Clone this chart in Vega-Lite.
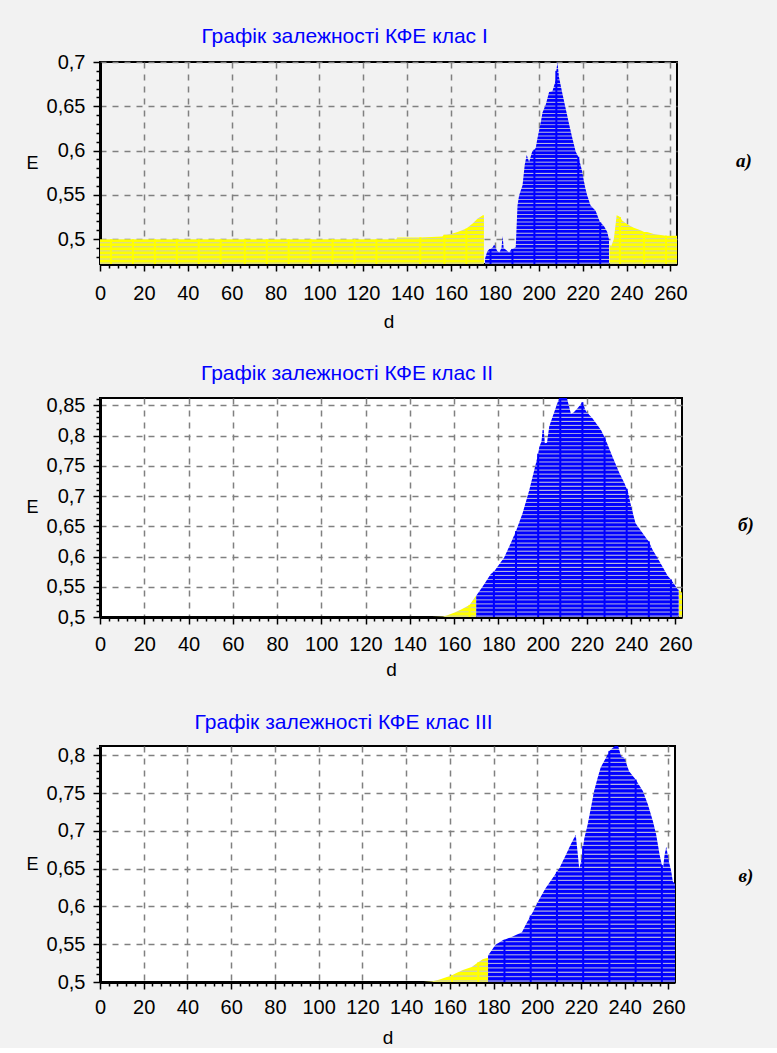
{
"$schema": "https://vega.github.io/schema/vega-lite/v6.json",
"background": "#f2f2f2",
"padding": {"left": 25, "top": 1, "right": 0, "bottom": 0},
"spacing": 6,
"config": {
  "view": {"stroke": "#000", "strokeWidth": 2},
  "font": "Liberation Sans",
  "axis": {"domainColor": "#000", "domainWidth": 3, "tickColor": "#000", "tickWidth": 1.5, "labelFont": "Liberation Sans", "labelFontSize": 20, "labelColor": "#000", "titleFont": "Liberation Sans", "titleFontSize": 19, "titleFontWeight": "normal", "titleColor": "#000", "gridColor": "#808080", "gridDash": [6, 6], "gridWidth": 1.5, "labelOverlap": false, "labelFlush": false, "labelBound": false}
},
"datasets": {
"p1": [
{"d":0,"E":0.5,"s":"y1"},{"d":5,"E":0.5,"s":"y1"},{"d":15,"E":0.5,"s":"y1"},{"d":25,"E":0.5,"s":"y1"},{"d":35,"E":0.5,"s":"y1"},{"d":45,"E":0.5,"s":"y1"},{"d":55,"E":0.5,"s":"y1"},{"d":66,"E":0.5,"s":"y1"},{"d":76,"E":0.5,"s":"y1"},{"d":86,"E":0.5,"s":"y1"},{"d":96,"E":0.5,"s":"y1"},{"d":106,"E":0.5,"s":"y1"},{"d":116,"E":0.5,"s":"y1"},{"d":126,"E":0.5,"s":"y1"},{"d":135,"E":0.5,"s":"y1"},{"d":135.5,"E":0.502,"s":"y1"},{"d":146,"E":0.502,"s":"y1"},{"d":156,"E":0.503,"s":"y1"},{"d":157,"E":0.505,"s":"y1"},{"d":160,"E":0.506,"s":"y1"},{"d":163,"E":0.508,"s":"y1"},{"d":167,"E":0.512,"s":"y1"},{"d":170,"E":0.518,"s":"y1"},{"d":172,"E":0.523,"s":"y1"},{"d":174.5,"E":0.527,"s":"y1"},{"d":175,"E":0.527,"s":"y1"},
{"d":175.5,"E":0.478,"s":"b"},{"d":176.5,"E":0.486,"s":"b"},{"d":177.5,"E":0.489,"s":"b"},{"d":178,"E":0.489,"s":"b"},{"d":179,"E":0.491,"s":"b"},{"d":179.7,"E":0.494,"s":"b"},{"d":181,"E":0.487,"s":"b"},{"d":182,"E":0.485,"s":"b"},{"d":183,"E":0.49,"s":"b"},{"d":183.5,"E":0.504,"s":"b"},{"d":184,"E":0.49,"s":"b"},{"d":185,"E":0.488,"s":"b"},{"d":186.5,"E":0.485,"s":"b"},{"d":187.6,"E":0.489,"s":"b"},{"d":188,"E":0.489,"s":"b"},{"d":189.5,"E":0.491,"s":"b"},{"d":190.3,"E":0.538,"s":"b"},{"d":191,"E":0.549,"s":"b"},{"d":192.6,"E":0.561,"s":"b"},{"d":193.6,"E":0.584,"s":"b"},{"d":194.5,"E":0.595,"s":"b"},{"d":195.6,"E":0.587,"s":"b"},{"d":197,"E":0.599,"s":"b"},{"d":198,"E":0.601,"s":"b"},{"d":198.6,"E":0.603,"s":"b"},{"d":199.4,"E":0.614,"s":"b"},{"d":201,"E":0.633,"s":"b"},{"d":201.7,"E":0.643,"s":"b"},{"d":203.2,"E":0.652,"s":"b"},{"d":204.7,"E":0.666,"s":"b"},{"d":206.2,"E":0.667,"s":"b"},{"d":207.7,"E":0.679,"s":"b"},{"d":208,"E":0.69,"s":"b"},{"d":208.5,"E":0.7,"s":"b"},{"d":209.2,"E":0.683,"s":"b"},{"d":210.8,"E":0.664,"s":"b"},{"d":212.3,"E":0.647,"s":"b"},{"d":213.8,"E":0.63,"s":"b"},{"d":215.3,"E":0.614,"s":"b"},{"d":216.8,"E":0.599,"s":"b"},{"d":218,"E":0.593,"s":"b"},{"d":218.3,"E":0.591,"s":"b"},{"d":219.8,"E":0.576,"s":"b"},{"d":220.9,"E":0.561,"s":"b"},{"d":222,"E":0.55,"s":"b"},{"d":223.6,"E":0.538,"s":"b"},{"d":225.9,"E":0.532,"s":"b"},{"d":227.9,"E":0.519,"s":"b"},{"d":228,"E":0.519,"s":"b"},{"d":229.7,"E":0.515,"s":"b"},{"d":231.2,"E":0.508,"s":"b"},{"d":232,"E":0.5,"s":"b"},
{"d":232.2,"E":0.494,"s":"y2"},{"d":233,"E":0.492,"s":"y2"},{"d":234.2,"E":0.5,"s":"y2"},{"d":235.5,"E":0.527,"s":"y2"},{"d":236.5,"E":0.526,"s":"y2"},{"d":237,"E":0.525,"s":"y2"},{"d":238,"E":0.521,"s":"y2"},{"d":240.3,"E":0.517,"s":"y2"},{"d":243.3,"E":0.513,"s":"y2"},{"d":246.4,"E":0.51,"s":"y2"},{"d":248,"E":0.508,"s":"y2"},{"d":249.4,"E":0.508,"s":"y2"},{"d":252.4,"E":0.506,"s":"y2"},{"d":258,"E":0.504,"s":"y2"},{"d":263,"E":0.504,"s":"y2"}
],
"p2": [
{"d":150,"E":0.5,"s":"y1"},{"d":155,"E":0.501,"s":"y1"},{"d":157,"E":0.503,"s":"y1"},{"d":160,"E":0.507,"s":"y1"},{"d":163,"E":0.512,"s":"y1"},{"d":167,"E":0.52,"s":"y1"},{"d":169.5,"E":0.533,"s":"y1"},{"d":170,"E":0.535,"s":"y1"},
{"d":170,"E":0.535,"s":"b"},{"d":173,"E":0.551,"s":"b"},{"d":176.6,"E":0.571,"s":"b"},{"d":178,"E":0.575,"s":"b"},{"d":181,"E":0.59,"s":"b"},{"d":182.6,"E":0.598,"s":"b"},{"d":185.6,"E":0.622,"s":"b"},{"d":188,"E":0.642,"s":"b"},{"d":191,"E":0.672,"s":"b"},{"d":194,"E":0.71,"s":"b"},{"d":197,"E":0.754,"s":"b"},{"d":198,"E":0.77,"s":"b"},{"d":198.5,"E":0.781,"s":"b"},{"d":199.5,"E":0.79,"s":"b"},{"d":200,"E":0.809,"s":"b"},{"d":200.5,"E":0.81,"s":"b"},{"d":201,"E":0.787,"s":"b"},{"d":202,"E":0.788,"s":"b"},{"d":203,"E":0.815,"s":"b"},{"d":205,"E":0.836,"s":"b"},{"d":207.5,"E":0.862,"s":"b"},{"d":208,"E":0.862,"s":"b"},{"d":211,"E":0.862,"s":"b"},{"d":212.8,"E":0.836,"s":"b"},{"d":214,"E":0.838,"s":"b"},{"d":215.8,"E":0.845,"s":"b"},{"d":218,"E":0.855,"s":"b"},{"d":219.6,"E":0.84,"s":"b"},{"d":222.6,"E":0.828,"s":"b"},{"d":226.4,"E":0.809,"s":"b"},{"d":228,"E":0.797,"s":"b"},{"d":228.6,"E":0.792,"s":"b"},{"d":231.6,"E":0.765,"s":"b"},{"d":234.7,"E":0.738,"s":"b"},{"d":237,"E":0.721,"s":"b"},{"d":238,"E":0.712,"s":"b"},{"d":238.4,"E":0.71,"s":"b"},{"d":240,"E":0.683,"s":"b"},{"d":242,"E":0.655,"s":"b"},{"d":246.7,"E":0.631,"s":"b"},{"d":248,"E":0.625,"s":"b"},{"d":249.7,"E":0.611,"s":"b"},{"d":252.8,"E":0.592,"s":"b"},{"d":256.5,"E":0.568,"s":"b"},{"d":258,"E":0.562,"s":"b"},{"d":259.5,"E":0.554,"s":"b"},{"d":261,"E":0.546,"s":"b"},{"d":261.5,"E":0.545,"s":"b"},
{"d":261.6,"E":0.545,"s":"y2"},{"d":263,"E":0.54,"s":"y2"}
],
"p3": [
{"d":148,"E":0.5,"s":"y1"},{"d":152,"E":0.501,"s":"y1"},{"d":155,"E":0.503,"s":"y1"},{"d":158,"E":0.506,"s":"y1"},{"d":161,"E":0.509,"s":"y1"},{"d":163,"E":0.512,"s":"y1"},{"d":166,"E":0.516,"s":"y1"},{"d":170,"E":0.52,"s":"y1"},{"d":173,"E":0.526,"s":"y1"},{"d":175,"E":0.53,"s":"y1"},{"d":177.5,"E":0.532,"s":"y1"},
{"d":177.5,"E":0.535,"s":"b"},{"d":180.8,"E":0.549,"s":"b"},{"d":184,"E":0.555,"s":"b"},{"d":185,"E":0.556,"s":"b"},{"d":188.5,"E":0.56,"s":"b"},{"d":193,"E":0.566,"s":"b"},{"d":194.6,"E":0.575,"s":"b"},{"d":197,"E":0.588,"s":"b"},{"d":197.7,"E":0.591,"s":"b"},{"d":200.8,"E":0.609,"s":"b"},{"d":203.8,"E":0.624,"s":"b"},{"d":206.9,"E":0.637,"s":"b"},{"d":209,"E":0.646,"s":"b"},{"d":210,"E":0.65,"s":"b"},{"d":213,"E":0.668,"s":"b"},{"d":215.3,"E":0.682,"s":"b"},{"d":217.6,"E":0.695,"s":"b"},{"d":218.5,"E":0.67,"s":"b"},{"d":219.2,"E":0.65,"s":"b"},{"d":220.4,"E":0.664,"s":"b"},{"d":221,"E":0.68,"s":"b"},{"d":221.5,"E":0.69,"s":"b"},{"d":223,"E":0.708,"s":"b"},{"d":224.5,"E":0.73,"s":"b"},{"d":226,"E":0.753,"s":"b"},{"d":227.6,"E":0.77,"s":"b"},{"d":229,"E":0.784,"s":"b"},{"d":231.4,"E":0.797,"s":"b"},{"d":233,"E":0.806,"s":"b"},{"d":233.7,"E":0.808,"s":"b"},{"d":235.5,"E":0.8125,"s":"b"},{"d":237,"E":0.8125,"s":"b"},{"d":238.3,"E":0.799,"s":"b"},{"d":239.8,"E":0.797,"s":"b"},{"d":242,"E":0.779,"s":"b"},{"d":245,"E":0.768,"s":"b"},{"d":248.3,"E":0.753,"s":"b"},{"d":250.6,"E":0.735,"s":"b"},{"d":252.9,"E":0.713,"s":"b"},{"d":254.4,"E":0.695,"s":"b"},{"d":256,"E":0.668,"s":"b"},{"d":257,"E":0.655,"s":"b"},{"d":257.5,"E":0.65,"s":"b"},{"d":258.2,"E":0.668,"s":"b"},{"d":259,"E":0.679,"s":"b"},{"d":260.2,"E":0.66,"s":"b"},{"d":261.3,"E":0.646,"s":"b"},{"d":262,"E":0.633,"s":"b"},{"d":263,"E":0.63,"s":"b"}
]
},
"vconcat": [
{"spacing": 16, "hconcat": [
 {"width": 577, "height": 202,
  "title": {"text": ["", "Графік залежності КФЕ клас I"], "color": "#0000ff", "fontSize": 21, "font": "Liberation Sans", "fontWeight": "normal", "anchor": "middle", "frame": "bounds", "lineHeight": 24, "offset": 5, "dx": -12},
  "view": {"fill": "#f2f2f2"},
  "data": {"name": "p1"},
  "encoding": {
   "x": {"field": "d", "type": "quantitative", "scale": {"domain": [0, 263], "nice": false, "zero": false},
     "axis": {"values": [0,4,8,12,16,20,24,28,32,36,40,44,48,52,56,60,64,68,72,76,80,84,88,92,96,100,104,108,112,116,120,124,128,132,136,140,144,148,152,156,160,164,168,172,176,180,184,188,192,196,200,204,208,212,216,220,224,228,232,236,240,244,248,252,256,260], "labelExpr": "datum.value % 20 == 0 ? datum.label : ''", "tickSize": {"condition": {"test": "datum.value % 20 == 0", "value": 7}, "value": 4}, "gridOpacity": {"condition": {"test": "datum.value % 20 == 0", "value": 1}, "value": 0}, "grid": true, "title": "d", "labelPadding": 12, "titlePadding": 9}},
   "y": {"field": "E", "type": "quantitative", "scale": {"domain": [0.472, 0.7], "nice": false, "zero": false},
     "axis": {"values": [0.48,0.49,0.5,0.51,0.52,0.53,0.54,0.55,0.56,0.57,0.58,0.59,0.6,0.61,0.62,0.63,0.64,0.65,0.66,0.67,0.68,0.69,0.7], "labelExpr": "round(datum.value*100) % 5 == 0 ? replace(format(datum.value, '.2~f'), '.', ',') : ''", "tickSize": {"condition": {"test": "round(datum.value*100) % 5 == 0", "value": 7}, "value": 4}, "gridOpacity": {"condition": {"test": "round(datum.value*100) % 5 == 0", "value": 1}, "value": 0}, "grid": true, "title": "E", "titleFontSize": 18, "titleAngle": 0, "titleAlign": "right", "titleBaseline": "middle", "titlePadding": 8, "labelPadding": 8}}
  },
  "layer": [
   {"transform": [{"filter": "datum.s != 'b'"}], "mark": {"type": "area", "clip": true, "fill": {"gradient": "linear", "x1": 0, "y1": 0, "x2": 0, "y2": 1, "stops": [
{"offset":0,"color":"#ff0"},{"offset":0.0417,"color":"#ff0"},{"offset":0.0667,"color":"#ccb"},
{"offset":0.0833,"color":"#ff0"},{"offset":0.125,"color":"#ff0"},{"offset":0.15,"color":"#ccb"},
{"offset":0.1667,"color":"#ff0"},{"offset":0.2083,"color":"#ff0"},{"offset":0.2333,"color":"#ccb"},
{"offset":0.25,"color":"#ff0"},{"offset":0.2917,"color":"#ff0"},{"offset":0.3167,"color":"#ccb"},
{"offset":0.3333,"color":"#ff0"},{"offset":0.375,"color":"#ff0"},{"offset":0.4,"color":"#ccb"},
{"offset":0.4167,"color":"#ff0"},{"offset":0.4583,"color":"#ff0"},{"offset":0.4833,"color":"#ccb"},
{"offset":0.5,"color":"#ff0"},{"offset":0.5417,"color":"#ff0"},{"offset":0.5667,"color":"#ccb"},
{"offset":0.5833,"color":"#ff0"},{"offset":0.625,"color":"#ff0"},{"offset":0.65,"color":"#ccb"},
{"offset":0.6667,"color":"#ff0"},{"offset":0.7083,"color":"#ff0"},{"offset":0.7333,"color":"#ccb"},
{"offset":0.75,"color":"#ff0"},{"offset":0.7917,"color":"#ff0"},{"offset":0.8167,"color":"#ccb"},
{"offset":0.8333,"color":"#ff0"},{"offset":0.875,"color":"#ff0"},{"offset":0.9,"color":"#ccb"},
{"offset":0.9167,"color":"#ff0"},{"offset":0.9583,"color":"#ff0"},{"offset":0.9833,"color":"#ccb"},
{"offset":1,"color":"#ff0"}]}}, "encoding": {"detail": {"field": "s"}, "y2": {"datum": 0.472}}},
   {"transform": [{"filter": "datum.s == 'b'"}], "mark": {"type": "area", "clip": true, "fill": {"gradient": "linear", "x1": 0, "y1": 0, "x2": 0, "y2": 1, "stops": [
{"offset":0,"color":"#00f"},{"offset":0.0093,"color":"#00f"},{"offset":0.0148,"color":"#bbd"},
{"offset":0.0185,"color":"#00f"},{"offset":0.0278,"color":"#00f"},{"offset":0.0333,"color":"#bbd"},
{"offset":0.037,"color":"#00f"},{"offset":0.0463,"color":"#00f"},{"offset":0.0519,"color":"#bbd"},
{"offset":0.0556,"color":"#00f"},{"offset":0.0648,"color":"#00f"},{"offset":0.0704,"color":"#bbd"},
{"offset":0.0741,"color":"#00f"},{"offset":0.0833,"color":"#00f"},{"offset":0.0889,"color":"#bbd"},
{"offset":0.0926,"color":"#00f"},{"offset":0.1019,"color":"#00f"},{"offset":0.1074,"color":"#bbd"},
{"offset":0.1111,"color":"#00f"},{"offset":0.1204,"color":"#00f"},{"offset":0.1259,"color":"#bbd"},
{"offset":0.1296,"color":"#00f"},{"offset":0.1389,"color":"#00f"},{"offset":0.1444,"color":"#bbd"},
{"offset":0.1481,"color":"#00f"},{"offset":0.1574,"color":"#00f"},{"offset":0.163,"color":"#bbd"},
{"offset":0.1667,"color":"#00f"},{"offset":0.1759,"color":"#00f"},{"offset":0.1815,"color":"#bbd"},
{"offset":0.1852,"color":"#00f"},{"offset":0.1944,"color":"#00f"},{"offset":0.2,"color":"#bbd"},
{"offset":0.2037,"color":"#00f"},{"offset":0.213,"color":"#00f"},{"offset":0.2185,"color":"#bbd"},
{"offset":0.2222,"color":"#00f"},{"offset":0.2315,"color":"#00f"},{"offset":0.237,"color":"#bbd"},
{"offset":0.2407,"color":"#00f"},{"offset":0.25,"color":"#00f"},{"offset":0.2556,"color":"#bbd"},
{"offset":0.2593,"color":"#00f"},{"offset":0.2685,"color":"#00f"},{"offset":0.2741,"color":"#bbd"},
{"offset":0.2778,"color":"#00f"},{"offset":0.287,"color":"#00f"},{"offset":0.2926,"color":"#bbd"},
{"offset":0.2963,"color":"#00f"},{"offset":0.3056,"color":"#00f"},{"offset":0.3111,"color":"#bbd"},
{"offset":0.3148,"color":"#00f"},{"offset":0.3241,"color":"#00f"},{"offset":0.3296,"color":"#bbd"},
{"offset":0.3333,"color":"#00f"},{"offset":0.3426,"color":"#00f"},{"offset":0.3481,"color":"#bbd"},
{"offset":0.3519,"color":"#00f"},{"offset":0.3611,"color":"#00f"},{"offset":0.3667,"color":"#bbd"},
{"offset":0.3704,"color":"#00f"},{"offset":0.3796,"color":"#00f"},{"offset":0.3852,"color":"#bbd"},
{"offset":0.3889,"color":"#00f"},{"offset":0.3981,"color":"#00f"},{"offset":0.4037,"color":"#bbd"},
{"offset":0.4074,"color":"#00f"},{"offset":0.4167,"color":"#00f"},{"offset":0.4222,"color":"#bbd"},
{"offset":0.4259,"color":"#00f"},{"offset":0.4352,"color":"#00f"},{"offset":0.4407,"color":"#bbd"},
{"offset":0.4444,"color":"#00f"},{"offset":0.4537,"color":"#00f"},{"offset":0.4593,"color":"#bbd"},
{"offset":0.463,"color":"#00f"},{"offset":0.4722,"color":"#00f"},{"offset":0.4778,"color":"#bbd"},
{"offset":0.4815,"color":"#00f"},{"offset":0.4907,"color":"#00f"},{"offset":0.4963,"color":"#bbd"},
{"offset":0.5,"color":"#00f"},{"offset":0.5093,"color":"#00f"},{"offset":0.5148,"color":"#bbd"},
{"offset":0.5185,"color":"#00f"},{"offset":0.5278,"color":"#00f"},{"offset":0.5333,"color":"#bbd"},
{"offset":0.537,"color":"#00f"},{"offset":0.5463,"color":"#00f"},{"offset":0.5519,"color":"#bbd"},
{"offset":0.5556,"color":"#00f"},{"offset":0.5648,"color":"#00f"},{"offset":0.5704,"color":"#bbd"},
{"offset":0.5741,"color":"#00f"},{"offset":0.5833,"color":"#00f"},{"offset":0.5889,"color":"#bbd"},
{"offset":0.5926,"color":"#00f"},{"offset":0.6019,"color":"#00f"},{"offset":0.6074,"color":"#bbd"},
{"offset":0.6111,"color":"#00f"},{"offset":0.6204,"color":"#00f"},{"offset":0.6259,"color":"#bbd"},
{"offset":0.6296,"color":"#00f"},{"offset":0.6389,"color":"#00f"},{"offset":0.6444,"color":"#bbd"},
{"offset":0.6481,"color":"#00f"},{"offset":0.6574,"color":"#00f"},{"offset":0.663,"color":"#bbd"},
{"offset":0.6667,"color":"#00f"},{"offset":0.6759,"color":"#00f"},{"offset":0.6815,"color":"#bbd"},
{"offset":0.6852,"color":"#00f"},{"offset":0.6944,"color":"#00f"},{"offset":0.7,"color":"#bbd"},
{"offset":0.7037,"color":"#00f"},{"offset":0.713,"color":"#00f"},{"offset":0.7185,"color":"#bbd"},
{"offset":0.7222,"color":"#00f"},{"offset":0.7315,"color":"#00f"},{"offset":0.737,"color":"#bbd"},
{"offset":0.7407,"color":"#00f"},{"offset":0.75,"color":"#00f"},{"offset":0.7556,"color":"#bbd"},
{"offset":0.7593,"color":"#00f"},{"offset":0.7685,"color":"#00f"},{"offset":0.7741,"color":"#bbd"},
{"offset":0.7778,"color":"#00f"},{"offset":0.787,"color":"#00f"},{"offset":0.7926,"color":"#bbd"},
{"offset":0.7963,"color":"#00f"},{"offset":0.8056,"color":"#00f"},{"offset":0.8111,"color":"#bbd"},
{"offset":0.8148,"color":"#00f"},{"offset":0.8241,"color":"#00f"},{"offset":0.8296,"color":"#bbd"},
{"offset":0.8333,"color":"#00f"},{"offset":0.8426,"color":"#00f"},{"offset":0.8481,"color":"#bbd"},
{"offset":0.8519,"color":"#00f"},{"offset":0.8611,"color":"#00f"},{"offset":0.8667,"color":"#bbd"},
{"offset":0.8704,"color":"#00f"},{"offset":0.8796,"color":"#00f"},{"offset":0.8852,"color":"#bbd"},
{"offset":0.8889,"color":"#00f"},{"offset":0.8981,"color":"#00f"},{"offset":0.9037,"color":"#bbd"},
{"offset":0.9074,"color":"#00f"},{"offset":0.9167,"color":"#00f"},{"offset":0.9222,"color":"#bbd"},
{"offset":0.9259,"color":"#00f"},{"offset":0.9352,"color":"#00f"},{"offset":0.9407,"color":"#bbd"},
{"offset":0.9444,"color":"#00f"},{"offset":0.9537,"color":"#00f"},{"offset":0.9593,"color":"#bbd"},
{"offset":0.963,"color":"#00f"},{"offset":0.9722,"color":"#00f"},{"offset":0.9778,"color":"#bbd"},
{"offset":0.9815,"color":"#00f"},{"offset":0.9907,"color":"#00f"},{"offset":0.9963,"color":"#bbd"},
{"offset":1,"color":"#00f"}]}}, "encoding": {"y2": {"datum": 0.472}}},
   {"transform": [{"filter": "datum.s != 'b' && indexof([5,15,25,35,45,55,66,76,86,96,106,116,126,146,157,167,237,248,258], datum.d) >= 0"}], "mark": {"type": "rule", "color": "#ffff00", "strokeWidth": 2, "clip": true}, "encoding": {"y2": {"datum": 0.472}}},
   {"transform": [{"filter": "datum.s == 'b' && indexof([178,188,198,208,218,228], datum.d) >= 0"}], "mark": {"type": "rule", "color": "#0000ff", "strokeWidth": 2, "clip": true}, "encoding": {"y2": {"datum": 0.472}}}
  ]
 },
 {"width": 84, "height": 202, "view": {"stroke": null}, "data": {"values": [{"t": "а)"}]},
  "mark": {"type": "text", "font": "Liberation Serif", "fontStyle": "italic", "fontWeight": "bold", "fontSize": 19, "dx": -3, "dy": -2},
  "encoding": {"text": {"field": "t"}}}
]},
{"spacing": 11, "hconcat": [
 {"width": 582, "height": 219,
  "title": {"text": ["", "Графік залежності КФЕ клас II"], "color": "#0000ff", "fontSize": 21, "font": "Liberation Sans", "fontWeight": "normal", "anchor": "middle", "frame": "bounds", "lineHeight": 24, "offset": 5, "dx": -12},
  "view": {"fill": "#ffffff"},
  "data": {"name": "p2"},
  "encoding": {
   "x": {"field": "d", "type": "quantitative", "scale": {"domain": [0, 263], "nice": false, "zero": false},
     "axis": {"values": [0,4,8,12,16,20,24,28,32,36,40,44,48,52,56,60,64,68,72,76,80,84,88,92,96,100,104,108,112,116,120,124,128,132,136,140,144,148,152,156,160,164,168,172,176,180,184,188,192,196,200,204,208,212,216,220,224,228,232,236,240,244,248,252,256,260], "labelExpr": "datum.value % 20 == 0 ? datum.label : ''", "tickSize": {"condition": {"test": "datum.value % 20 == 0", "value": 7}, "value": 4}, "gridOpacity": {"condition": {"test": "datum.value % 20 == 0", "value": 1}, "value": 0}, "grid": true, "title": "d", "labelPadding": 10, "titlePadding": 6}},
   "y": {"field": "E", "type": "quantitative", "scale": {"domain": [0.5, 0.862], "nice": false, "zero": false},
     "axis": {"values": [0.5,0.51,0.52,0.53,0.54,0.55,0.56,0.57,0.58,0.59,0.6,0.61,0.62,0.63,0.64,0.65,0.66,0.67,0.68,0.69,0.7,0.71,0.72,0.73,0.74,0.75,0.76,0.77,0.78,0.79,0.8,0.81,0.82,0.83,0.84,0.85,0.86], "labelExpr": "round(datum.value*100) % 5 == 0 ? replace(format(datum.value, '.2~f'), '.', ',') : ''", "tickSize": {"condition": {"test": "round(datum.value*100) % 5 == 0", "value": 7}, "value": 4}, "gridOpacity": {"condition": {"test": "round(datum.value*100) % 5 == 0", "value": 1}, "value": 0}, "grid": true, "title": "E", "titleFontSize": 18, "titleAngle": 0, "titleAlign": "right", "titleBaseline": "middle", "titlePadding": 8, "labelPadding": 8}}
  },
  "layer": [
   {"transform": [{"filter": "datum.s != 'b'"}], "mark": {"type": "area", "clip": true, "fill": {"gradient": "linear", "x1": 0, "y1": 0, "x2": 0, "y2": 1, "stops": [
{"offset":0,"color":"#ff0"},{"offset":0.1,"color":"#ff0"},{"offset":0.16,"color":"#ccb"},
{"offset":0.2,"color":"#ff0"},{"offset":0.3,"color":"#ff0"},{"offset":0.36,"color":"#ccb"},
{"offset":0.4,"color":"#ff0"},{"offset":0.5,"color":"#ff0"},{"offset":0.56,"color":"#ccb"},
{"offset":0.6,"color":"#ff0"},{"offset":0.7,"color":"#ff0"},{"offset":0.76,"color":"#ccb"},
{"offset":0.8,"color":"#ff0"},{"offset":0.9,"color":"#ff0"},{"offset":0.96,"color":"#ccb"},
{"offset":1,"color":"#ff0"}]}}, "encoding": {"detail": {"field": "s"}, "y2": {"datum": 0.5}}},
   {"transform": [{"filter": "datum.s == 'b'"}], "mark": {"type": "area", "clip": true, "fill": {"gradient": "linear", "x1": 0, "y1": 0, "x2": 0, "y2": 1, "stops": [
{"offset":0,"color":"#00f"},{"offset":0.0093,"color":"#00f"},{"offset":0.0148,"color":"#bbd"},
{"offset":0.0185,"color":"#00f"},{"offset":0.0278,"color":"#00f"},{"offset":0.0333,"color":"#bbd"},
{"offset":0.037,"color":"#00f"},{"offset":0.0463,"color":"#00f"},{"offset":0.0519,"color":"#bbd"},
{"offset":0.0556,"color":"#00f"},{"offset":0.0648,"color":"#00f"},{"offset":0.0704,"color":"#bbd"},
{"offset":0.0741,"color":"#00f"},{"offset":0.0833,"color":"#00f"},{"offset":0.0889,"color":"#bbd"},
{"offset":0.0926,"color":"#00f"},{"offset":0.1019,"color":"#00f"},{"offset":0.1074,"color":"#bbd"},
{"offset":0.1111,"color":"#00f"},{"offset":0.1204,"color":"#00f"},{"offset":0.1259,"color":"#bbd"},
{"offset":0.1296,"color":"#00f"},{"offset":0.1389,"color":"#00f"},{"offset":0.1444,"color":"#bbd"},
{"offset":0.1481,"color":"#00f"},{"offset":0.1574,"color":"#00f"},{"offset":0.163,"color":"#bbd"},
{"offset":0.1667,"color":"#00f"},{"offset":0.1759,"color":"#00f"},{"offset":0.1815,"color":"#bbd"},
{"offset":0.1852,"color":"#00f"},{"offset":0.1944,"color":"#00f"},{"offset":0.2,"color":"#bbd"},
{"offset":0.2037,"color":"#00f"},{"offset":0.213,"color":"#00f"},{"offset":0.2185,"color":"#bbd"},
{"offset":0.2222,"color":"#00f"},{"offset":0.2315,"color":"#00f"},{"offset":0.237,"color":"#bbd"},
{"offset":0.2407,"color":"#00f"},{"offset":0.25,"color":"#00f"},{"offset":0.2556,"color":"#bbd"},
{"offset":0.2593,"color":"#00f"},{"offset":0.2685,"color":"#00f"},{"offset":0.2741,"color":"#bbd"},
{"offset":0.2778,"color":"#00f"},{"offset":0.287,"color":"#00f"},{"offset":0.2926,"color":"#bbd"},
{"offset":0.2963,"color":"#00f"},{"offset":0.3056,"color":"#00f"},{"offset":0.3111,"color":"#bbd"},
{"offset":0.3148,"color":"#00f"},{"offset":0.3241,"color":"#00f"},{"offset":0.3296,"color":"#bbd"},
{"offset":0.3333,"color":"#00f"},{"offset":0.3426,"color":"#00f"},{"offset":0.3481,"color":"#bbd"},
{"offset":0.3519,"color":"#00f"},{"offset":0.3611,"color":"#00f"},{"offset":0.3667,"color":"#bbd"},
{"offset":0.3704,"color":"#00f"},{"offset":0.3796,"color":"#00f"},{"offset":0.3852,"color":"#bbd"},
{"offset":0.3889,"color":"#00f"},{"offset":0.3981,"color":"#00f"},{"offset":0.4037,"color":"#bbd"},
{"offset":0.4074,"color":"#00f"},{"offset":0.4167,"color":"#00f"},{"offset":0.4222,"color":"#bbd"},
{"offset":0.4259,"color":"#00f"},{"offset":0.4352,"color":"#00f"},{"offset":0.4407,"color":"#bbd"},
{"offset":0.4444,"color":"#00f"},{"offset":0.4537,"color":"#00f"},{"offset":0.4593,"color":"#bbd"},
{"offset":0.463,"color":"#00f"},{"offset":0.4722,"color":"#00f"},{"offset":0.4778,"color":"#bbd"},
{"offset":0.4815,"color":"#00f"},{"offset":0.4907,"color":"#00f"},{"offset":0.4963,"color":"#bbd"},
{"offset":0.5,"color":"#00f"},{"offset":0.5093,"color":"#00f"},{"offset":0.5148,"color":"#bbd"},
{"offset":0.5185,"color":"#00f"},{"offset":0.5278,"color":"#00f"},{"offset":0.5333,"color":"#bbd"},
{"offset":0.537,"color":"#00f"},{"offset":0.5463,"color":"#00f"},{"offset":0.5519,"color":"#bbd"},
{"offset":0.5556,"color":"#00f"},{"offset":0.5648,"color":"#00f"},{"offset":0.5704,"color":"#bbd"},
{"offset":0.5741,"color":"#00f"},{"offset":0.5833,"color":"#00f"},{"offset":0.5889,"color":"#bbd"},
{"offset":0.5926,"color":"#00f"},{"offset":0.6019,"color":"#00f"},{"offset":0.6074,"color":"#bbd"},
{"offset":0.6111,"color":"#00f"},{"offset":0.6204,"color":"#00f"},{"offset":0.6259,"color":"#bbd"},
{"offset":0.6296,"color":"#00f"},{"offset":0.6389,"color":"#00f"},{"offset":0.6444,"color":"#bbd"},
{"offset":0.6481,"color":"#00f"},{"offset":0.6574,"color":"#00f"},{"offset":0.663,"color":"#bbd"},
{"offset":0.6667,"color":"#00f"},{"offset":0.6759,"color":"#00f"},{"offset":0.6815,"color":"#bbd"},
{"offset":0.6852,"color":"#00f"},{"offset":0.6944,"color":"#00f"},{"offset":0.7,"color":"#bbd"},
{"offset":0.7037,"color":"#00f"},{"offset":0.713,"color":"#00f"},{"offset":0.7185,"color":"#bbd"},
{"offset":0.7222,"color":"#00f"},{"offset":0.7315,"color":"#00f"},{"offset":0.737,"color":"#bbd"},
{"offset":0.7407,"color":"#00f"},{"offset":0.75,"color":"#00f"},{"offset":0.7556,"color":"#bbd"},
{"offset":0.7593,"color":"#00f"},{"offset":0.7685,"color":"#00f"},{"offset":0.7741,"color":"#bbd"},
{"offset":0.7778,"color":"#00f"},{"offset":0.787,"color":"#00f"},{"offset":0.7926,"color":"#bbd"},
{"offset":0.7963,"color":"#00f"},{"offset":0.8056,"color":"#00f"},{"offset":0.8111,"color":"#bbd"},
{"offset":0.8148,"color":"#00f"},{"offset":0.8241,"color":"#00f"},{"offset":0.8296,"color":"#bbd"},
{"offset":0.8333,"color":"#00f"},{"offset":0.8426,"color":"#00f"},{"offset":0.8481,"color":"#bbd"},
{"offset":0.8519,"color":"#00f"},{"offset":0.8611,"color":"#00f"},{"offset":0.8667,"color":"#bbd"},
{"offset":0.8704,"color":"#00f"},{"offset":0.8796,"color":"#00f"},{"offset":0.8852,"color":"#bbd"},
{"offset":0.8889,"color":"#00f"},{"offset":0.8981,"color":"#00f"},{"offset":0.9037,"color":"#bbd"},
{"offset":0.9074,"color":"#00f"},{"offset":0.9167,"color":"#00f"},{"offset":0.9222,"color":"#bbd"},
{"offset":0.9259,"color":"#00f"},{"offset":0.9352,"color":"#00f"},{"offset":0.9407,"color":"#bbd"},
{"offset":0.9444,"color":"#00f"},{"offset":0.9537,"color":"#00f"},{"offset":0.9593,"color":"#bbd"},
{"offset":0.963,"color":"#00f"},{"offset":0.9722,"color":"#00f"},{"offset":0.9778,"color":"#bbd"},
{"offset":0.9815,"color":"#00f"},{"offset":0.9907,"color":"#00f"},{"offset":0.9963,"color":"#bbd"},
{"offset":1,"color":"#00f"}]}}, "encoding": {"y2": {"datum": 0.5}}},
   {"transform": [{"filter": "datum.s != 'b' && indexof([167], datum.d) >= 0"}], "mark": {"type": "rule", "color": "#ffff00", "strokeWidth": 2, "clip": true}, "encoding": {"y2": {"datum": 0.5}}},
   {"transform": [{"filter": "datum.s == 'b' && indexof([178,188,198,208,218,228,238,248,258], datum.d) >= 0"}], "mark": {"type": "rule", "color": "#0000ff", "strokeWidth": 2, "clip": true}, "encoding": {"y2": {"datum": 0.5}}}
  ]
 },
 {"width": 84, "height": 219, "view": {"stroke": null}, "data": {"values": [{"t": "б)"}]},
  "mark": {"type": "text", "font": "Liberation Serif", "fontStyle": "italic", "fontWeight": "bold", "fontSize": 19, "dx": -1, "dy": 17},
  "encoding": {"text": {"field": "t"}}}
]},
{"spacing": 18, "hconcat": [
 {"width": 575, "height": 236,
  "title": {"text": ["", "Графік залежності КФЕ клас III"], "color": "#0000ff", "fontSize": 21, "font": "Liberation Sans", "fontWeight": "normal", "anchor": "middle", "frame": "bounds", "lineHeight": 24, "offset": 5, "dx": -12},
  "view": {"fill": "#ffffff"},
  "data": {"name": "p3"},
  "encoding": {
   "x": {"field": "d", "type": "quantitative", "scale": {"domain": [0, 263], "nice": false, "zero": false},
     "axis": {"values": [0,4,8,12,16,20,24,28,32,36,40,44,48,52,56,60,64,68,72,76,80,84,88,92,96,100,104,108,112,116,120,124,128,132,136,140,144,148,152,156,160,164,168,172,176,180,184,188,192,196,200,204,208,212,216,220,224,228,232,236,240,244,248,252,256,260], "labelExpr": "datum.value % 20 == 0 ? datum.label : ''", "tickSize": {"condition": {"test": "datum.value % 20 == 0", "value": 7}, "value": 4}, "gridOpacity": {"condition": {"test": "datum.value % 20 == 0", "value": 1}, "value": 0}, "grid": true, "title": "d", "labelPadding": 8, "titlePadding": 11}},
   "y": {"field": "E", "type": "quantitative", "scale": {"domain": [0.5, 0.8125], "nice": false, "zero": false},
     "axis": {"values": [0.5,0.51,0.52,0.53,0.54,0.55,0.56,0.57,0.58,0.59,0.6,0.61,0.62,0.63,0.64,0.65,0.66,0.67,0.68,0.69,0.7,0.71,0.72,0.73,0.74,0.75,0.76,0.77,0.78,0.79,0.8,0.81], "labelExpr": "round(datum.value*100) % 5 == 0 ? replace(format(datum.value, '.2~f'), '.', ',') : ''", "tickSize": {"condition": {"test": "round(datum.value*100) % 5 == 0", "value": 7}, "value": 4}, "gridOpacity": {"condition": {"test": "round(datum.value*100) % 5 == 0", "value": 1}, "value": 0}, "grid": true, "title": "E", "titleFontSize": 18, "titleAngle": 0, "titleAlign": "right", "titleBaseline": "middle", "titlePadding": 8, "labelPadding": 8}}
  },
  "layer": [
   {"transform": [{"filter": "datum.s != 'b'"}], "mark": {"type": "area", "clip": true, "fill": {"gradient": "linear", "x1": 0, "y1": 0, "x2": 0, "y2": 1, "stops": [
{"offset":0,"color":"#ff0"},{"offset":0.1,"color":"#ff0"},{"offset":0.16,"color":"#ccb"},
{"offset":0.2,"color":"#ff0"},{"offset":0.3,"color":"#ff0"},{"offset":0.36,"color":"#ccb"},
{"offset":0.4,"color":"#ff0"},{"offset":0.5,"color":"#ff0"},{"offset":0.56,"color":"#ccb"},
{"offset":0.6,"color":"#ff0"},{"offset":0.7,"color":"#ff0"},{"offset":0.76,"color":"#ccb"},
{"offset":0.8,"color":"#ff0"},{"offset":0.9,"color":"#ff0"},{"offset":0.96,"color":"#ccb"},
{"offset":1,"color":"#ff0"}]}}, "encoding": {"detail": {"field": "s"}, "y2": {"datum": 0.5}}},
   {"transform": [{"filter": "datum.s == 'b'"}], "mark": {"type": "area", "clip": true, "fill": {"gradient": "linear", "x1": 0, "y1": 0, "x2": 0, "y2": 1, "stops": [
{"offset":0,"color":"#00f"},{"offset":0.0093,"color":"#00f"},{"offset":0.0148,"color":"#bbd"},
{"offset":0.0185,"color":"#00f"},{"offset":0.0278,"color":"#00f"},{"offset":0.0333,"color":"#bbd"},
{"offset":0.037,"color":"#00f"},{"offset":0.0463,"color":"#00f"},{"offset":0.0519,"color":"#bbd"},
{"offset":0.0556,"color":"#00f"},{"offset":0.0648,"color":"#00f"},{"offset":0.0704,"color":"#bbd"},
{"offset":0.0741,"color":"#00f"},{"offset":0.0833,"color":"#00f"},{"offset":0.0889,"color":"#bbd"},
{"offset":0.0926,"color":"#00f"},{"offset":0.1019,"color":"#00f"},{"offset":0.1074,"color":"#bbd"},
{"offset":0.1111,"color":"#00f"},{"offset":0.1204,"color":"#00f"},{"offset":0.1259,"color":"#bbd"},
{"offset":0.1296,"color":"#00f"},{"offset":0.1389,"color":"#00f"},{"offset":0.1444,"color":"#bbd"},
{"offset":0.1481,"color":"#00f"},{"offset":0.1574,"color":"#00f"},{"offset":0.163,"color":"#bbd"},
{"offset":0.1667,"color":"#00f"},{"offset":0.1759,"color":"#00f"},{"offset":0.1815,"color":"#bbd"},
{"offset":0.1852,"color":"#00f"},{"offset":0.1944,"color":"#00f"},{"offset":0.2,"color":"#bbd"},
{"offset":0.2037,"color":"#00f"},{"offset":0.213,"color":"#00f"},{"offset":0.2185,"color":"#bbd"},
{"offset":0.2222,"color":"#00f"},{"offset":0.2315,"color":"#00f"},{"offset":0.237,"color":"#bbd"},
{"offset":0.2407,"color":"#00f"},{"offset":0.25,"color":"#00f"},{"offset":0.2556,"color":"#bbd"},
{"offset":0.2593,"color":"#00f"},{"offset":0.2685,"color":"#00f"},{"offset":0.2741,"color":"#bbd"},
{"offset":0.2778,"color":"#00f"},{"offset":0.287,"color":"#00f"},{"offset":0.2926,"color":"#bbd"},
{"offset":0.2963,"color":"#00f"},{"offset":0.3056,"color":"#00f"},{"offset":0.3111,"color":"#bbd"},
{"offset":0.3148,"color":"#00f"},{"offset":0.3241,"color":"#00f"},{"offset":0.3296,"color":"#bbd"},
{"offset":0.3333,"color":"#00f"},{"offset":0.3426,"color":"#00f"},{"offset":0.3481,"color":"#bbd"},
{"offset":0.3519,"color":"#00f"},{"offset":0.3611,"color":"#00f"},{"offset":0.3667,"color":"#bbd"},
{"offset":0.3704,"color":"#00f"},{"offset":0.3796,"color":"#00f"},{"offset":0.3852,"color":"#bbd"},
{"offset":0.3889,"color":"#00f"},{"offset":0.3981,"color":"#00f"},{"offset":0.4037,"color":"#bbd"},
{"offset":0.4074,"color":"#00f"},{"offset":0.4167,"color":"#00f"},{"offset":0.4222,"color":"#bbd"},
{"offset":0.4259,"color":"#00f"},{"offset":0.4352,"color":"#00f"},{"offset":0.4407,"color":"#bbd"},
{"offset":0.4444,"color":"#00f"},{"offset":0.4537,"color":"#00f"},{"offset":0.4593,"color":"#bbd"},
{"offset":0.463,"color":"#00f"},{"offset":0.4722,"color":"#00f"},{"offset":0.4778,"color":"#bbd"},
{"offset":0.4815,"color":"#00f"},{"offset":0.4907,"color":"#00f"},{"offset":0.4963,"color":"#bbd"},
{"offset":0.5,"color":"#00f"},{"offset":0.5093,"color":"#00f"},{"offset":0.5148,"color":"#bbd"},
{"offset":0.5185,"color":"#00f"},{"offset":0.5278,"color":"#00f"},{"offset":0.5333,"color":"#bbd"},
{"offset":0.537,"color":"#00f"},{"offset":0.5463,"color":"#00f"},{"offset":0.5519,"color":"#bbd"},
{"offset":0.5556,"color":"#00f"},{"offset":0.5648,"color":"#00f"},{"offset":0.5704,"color":"#bbd"},
{"offset":0.5741,"color":"#00f"},{"offset":0.5833,"color":"#00f"},{"offset":0.5889,"color":"#bbd"},
{"offset":0.5926,"color":"#00f"},{"offset":0.6019,"color":"#00f"},{"offset":0.6074,"color":"#bbd"},
{"offset":0.6111,"color":"#00f"},{"offset":0.6204,"color":"#00f"},{"offset":0.6259,"color":"#bbd"},
{"offset":0.6296,"color":"#00f"},{"offset":0.6389,"color":"#00f"},{"offset":0.6444,"color":"#bbd"},
{"offset":0.6481,"color":"#00f"},{"offset":0.6574,"color":"#00f"},{"offset":0.663,"color":"#bbd"},
{"offset":0.6667,"color":"#00f"},{"offset":0.6759,"color":"#00f"},{"offset":0.6815,"color":"#bbd"},
{"offset":0.6852,"color":"#00f"},{"offset":0.6944,"color":"#00f"},{"offset":0.7,"color":"#bbd"},
{"offset":0.7037,"color":"#00f"},{"offset":0.713,"color":"#00f"},{"offset":0.7185,"color":"#bbd"},
{"offset":0.7222,"color":"#00f"},{"offset":0.7315,"color":"#00f"},{"offset":0.737,"color":"#bbd"},
{"offset":0.7407,"color":"#00f"},{"offset":0.75,"color":"#00f"},{"offset":0.7556,"color":"#bbd"},
{"offset":0.7593,"color":"#00f"},{"offset":0.7685,"color":"#00f"},{"offset":0.7741,"color":"#bbd"},
{"offset":0.7778,"color":"#00f"},{"offset":0.787,"color":"#00f"},{"offset":0.7926,"color":"#bbd"},
{"offset":0.7963,"color":"#00f"},{"offset":0.8056,"color":"#00f"},{"offset":0.8111,"color":"#bbd"},
{"offset":0.8148,"color":"#00f"},{"offset":0.8241,"color":"#00f"},{"offset":0.8296,"color":"#bbd"},
{"offset":0.8333,"color":"#00f"},{"offset":0.8426,"color":"#00f"},{"offset":0.8481,"color":"#bbd"},
{"offset":0.8519,"color":"#00f"},{"offset":0.8611,"color":"#00f"},{"offset":0.8667,"color":"#bbd"},
{"offset":0.8704,"color":"#00f"},{"offset":0.8796,"color":"#00f"},{"offset":0.8852,"color":"#bbd"},
{"offset":0.8889,"color":"#00f"},{"offset":0.8981,"color":"#00f"},{"offset":0.9037,"color":"#bbd"},
{"offset":0.9074,"color":"#00f"},{"offset":0.9167,"color":"#00f"},{"offset":0.9222,"color":"#bbd"},
{"offset":0.9259,"color":"#00f"},{"offset":0.9352,"color":"#00f"},{"offset":0.9407,"color":"#bbd"},
{"offset":0.9444,"color":"#00f"},{"offset":0.9537,"color":"#00f"},{"offset":0.9593,"color":"#bbd"},
{"offset":0.963,"color":"#00f"},{"offset":0.9722,"color":"#00f"},{"offset":0.9778,"color":"#bbd"},
{"offset":0.9815,"color":"#00f"},{"offset":0.9907,"color":"#00f"},{"offset":0.9963,"color":"#bbd"},
{"offset":1,"color":"#00f"}]}}, "encoding": {"y2": {"datum": 0.5}}},
   {"transform": [{"filter": "datum.s != 'b' && indexof([161,173], datum.d) >= 0"}], "mark": {"type": "rule", "color": "#ffff00", "strokeWidth": 2, "clip": true}, "encoding": {"y2": {"datum": 0.5}}},
   {"transform": [{"filter": "datum.s == 'b' && indexof([185,197,209,221,233,245,257], datum.d) >= 0"}], "mark": {"type": "rule", "color": "#0000ff", "strokeWidth": 2, "clip": true}, "encoding": {"y2": {"datum": 0.5}}}
  ]
 },
 {"width": 84, "height": 236, "view": {"stroke": null}, "data": {"values": [{"t": "в)"}]},
  "mark": {"type": "text", "font": "Liberation Serif", "fontStyle": "italic", "fontWeight": "bold", "fontSize": 19, "dx": -1, "dy": 12},
  "encoding": {"text": {"field": "t"}}}
]}
]
}
